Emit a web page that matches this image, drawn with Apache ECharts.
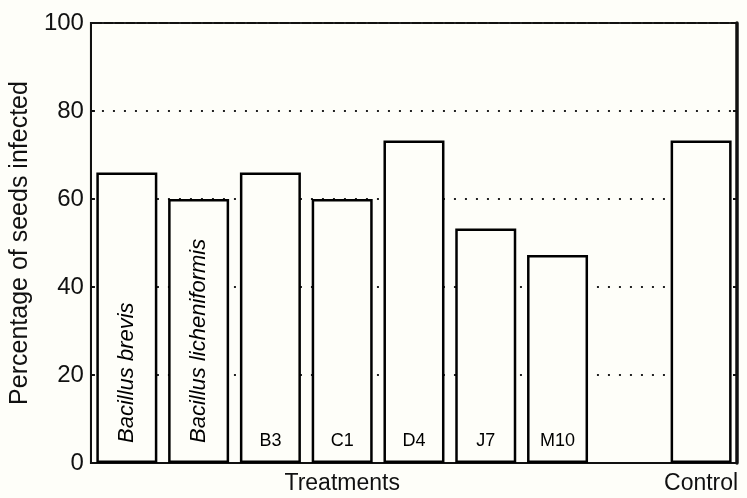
<!DOCTYPE html>
<html>
<head>
<meta charset="utf-8">
<script src="https://cdn.jsdelivr.net/npm/echarts@6/dist/echarts.min.js"></script>
<style>
    html, body { margin: 0; padding: 0; background: #fefef9; }
    #chart { width: 747px; height: 498px; }
</style>
</head>
<body>
<div id="chart"></div>
<script>
'use strict';
// 分类（第8个为空位）
var categories = ['Bacillus brevis', 'Bacillus licheniformis', 'B3', 'C1', 'D4', 'J7', 'M10', '', 'Control'];
// 感染百分比
var infected = [66, 60, 66, 60, 73.3, 53.3, 47.3, null, 73.3];
// 柱内文字
var barLabels = ['Bacillus brevis', 'Bacillus licheniformis', 'B3', 'C1', 'D4', 'J7', 'M10', '', ''];
var speciesFlag = [true, true, false, false, false, false, false, false, false];
// 横轴下方分组文字
var groupLabels = ['', '', '', 'Treatments', '', '', '', '', 'Control'];
var yMin = 0, yMax = 100, yStep = 20;

var font = 'Liberation Sans, Arial, Helvetica, sans-serif';

var seriesData = [];
for (var i = 0; i < infected.length; i++) {
    var lbl;
    if (speciesFlag[i]) {
        lbl = {
            show: true, position: 'insideBottom', distance: 20, rotate: 90,
            align: 'left', verticalAlign: 'middle',
            fontStyle: 'italic', fontSize: 22
        };
    } else {
        lbl = {show: barLabels[i] !== '', position: 'insideBottom', distance: 13, fontSize: 18};
    }
    lbl.formatter = barLabels[i];
    lbl.color = '#000';
    lbl.fontFamily = font;
    seriesData.push({value: infected[i], label: lbl});
}

var myChart = echarts.init(document.getElementById('chart'));
var option = {
    backgroundColor: '#fefef9',
    animation: false,
    grid: {left: 89, right: 10, top: 23, bottom: 35, show: true, borderColor: '#111', borderWidth: 2},
    xAxis: {
        type: 'category',
        data: categories,
        axisLine: {lineStyle: {color: '#111', width: 2}},
        axisTick: {show: false},
        axisLabel: {
            interval: 0, margin: 9, color: '#111', fontSize: 23, fontFamily: font,
            formatter: function (v, idx) { return groupLabels[idx]; }
        }
    },
    yAxis: [{
        type: 'value', min: yMin, max: yMax, interval: yStep,
        name: 'Percentage of seeds infected', nameLocation: 'middle', nameGap: 54,
        nameTextStyle: {color: '#111', fontSize: 25, fontFamily: font},
        axisLine: {show: true, lineStyle: {color: '#111', width: 2}},
        axisTick: {show: true, inside: true, length: 4, lineStyle: {color: '#111', width: 2}},
        axisLabel: {margin: 7, color: '#111', fontSize: 24, fontFamily: font},
        splitLine: {show: true, lineStyle: {color: '#222', width: 2, type: [2, 9]}}
    }, {
        type: 'value', position: 'right', min: yMin, max: yMax, interval: yStep,
        axisLine: {show: true, lineStyle: {color: '#111', width: 3.5}},
        axisTick: {show: true, inside: true, length: 4, lineStyle: {color: '#111', width: 2}},
        axisLabel: {show: false},
        splitLine: {show: false}
    }],
    series: [{
        type: 'bar',
        data: seriesData,
        barWidth: 61,
        itemStyle: {color: '#fefef9', borderColor: '#000', borderWidth: 2.5}
    }]
};
myChart.setOption(option, true);
</script>
</body>
</html>
